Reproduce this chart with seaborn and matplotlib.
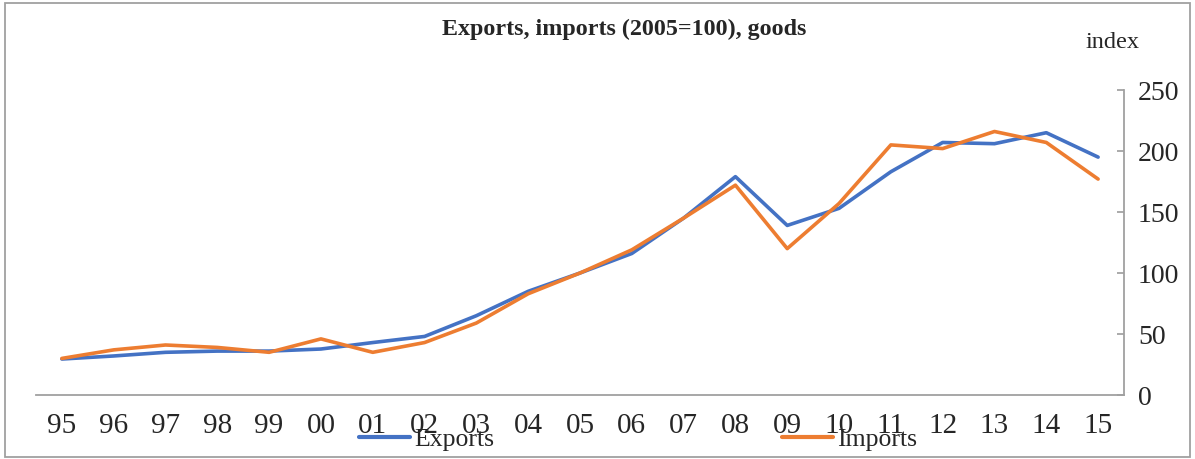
import matplotlib
matplotlib.use("Agg")
import matplotlib.pyplot as plt
import seaborn as sns
import pandas as pd
from matplotlib.patches import Rectangle

years = ["95", "96", "97", "98", "99", "00", "01", "02", "03", "04", "05",
         "06", "07", "08", "09", "10", "11", "12", "13", "14", "15"]
exports = [29.5, 32, 35, 36, 36, 37.7, 43, 48, 65, 85, 100,
           116, 145, 179, 139, 153, 183, 207, 206, 215, 195]
imports = [30, 37, 41, 39, 35, 46, 35, 43, 59, 83, 100,
           119, 145, 172, 120, 157, 205, 202, 216, 207, 177]
yticks = [0, 50, 100, 150, 200, 250]

sns.set_theme(style="white")
plt.rcParams["font.family"] = ["Liberation Serif", "DejaVu Serif"]

df = pd.DataFrame({
    "pos": list(range(len(years))) * 2,
    "value": exports + imports,
    "series": ["Exports"] * len(years) + ["Imports"] * len(years),
})

fig = plt.figure(figsize=(11.95, 4.59), dpi=100)
ax = fig.add_axes([0.0301, 0.1394, 0.9105, 0.6645])

sns.lineplot(data=df, x="pos", y="value", hue="series",
             palette={"Exports": "#4472C4", "Imports": "#ED7D31"},
             linewidth=2.6, ax=ax, legend=False)

ax.set_xlim(-0.5, len(years) - 0.5)
ax.set_ylim(0, 250)
ax.set_xticks(range(len(years)))
ax.set_xticklabels(years, fontsize=21)
ax.set_yticks(yticks)
ax.set_yticklabels([str(v) for v in yticks], fontsize=20)
ax.yaxis.tick_right()
ax.tick_params(axis="y", direction="in", length=5, color="#A0A0A0",
               pad=10, right=True, left=False)
ax.tick_params(axis="x", length=0, pad=13)
ax.set_xlabel("")
ax.set_ylabel("")
for side in ["top", "left"]:
    ax.spines[side].set_visible(False)
for side in ["bottom", "right"]:
    ax.spines[side].set_color("#A0A0A0")
    ax.spines[side].set_linewidth(1.3)

fig.text(0.522, 0.935, "Exports, imports (2005=100), goods",
         ha="center", va="center", fontsize=17.3, fontweight="bold")
fig.text(0.908, 0.908, "index", ha="left", va="center", fontsize=17.5)

handles = [plt.Line2D([], [], color="#4472C4", linewidth=3),
           plt.Line2D([], [], color="#ED7D31", linewidth=3)]
fig.legend(handles, ["Exports", "Imports"], loc="center",
           bbox_to_anchor=(0.534, 0.042), ncol=2, frameon=False,
           fontsize=18.5, handlelength=2.0, handletextpad=0.15,
           columnspacing=11.2)

fig.patches.append(Rectangle((0.004, 0.004), 0.992, 0.990,
                             transform=fig.transFigure, fill=False,
                             edgecolor="#A0A0A0", linewidth=1.3))

fig.savefig("out.png", dpi=100)
